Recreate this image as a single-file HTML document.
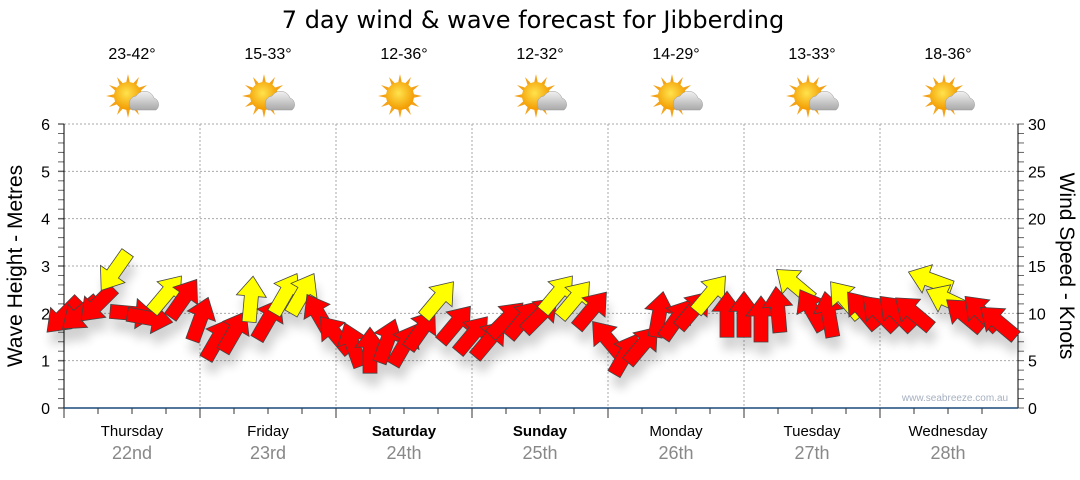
<!DOCTYPE html>
<html><head><meta charset="utf-8">
<style>
body{margin:0;background:#fff;font-family:"Liberation Sans",sans-serif;}
svg text{font-family:"Liberation Sans",sans-serif;}
</style></head>
<body>
<svg id="c" width="1080" height="475" viewBox="0 0 1080 475">
<defs>
<filter id="sh" x="-50%" y="-50%" width="200%" height="200%"><feGaussianBlur in="SourceAlpha" stdDeviation="5"/><feOffset dx="3" dy="12"/><feComponentTransfer><feFuncA type="linear" slope="0.18"/></feComponentTransfer><feMerge><feMergeNode/><feMergeNode in="SourceGraphic"/></feMerge></filter>
<radialGradient id="sun" cx="0.45" cy="0.4" r="0.6"><stop offset="0" stop-color="#ffe34d"/><stop offset="1" stop-color="#f39a00"/></radialGradient>
<linearGradient id="cl" x1="0" y1="0" x2="0" y2="1"><stop offset="0" stop-color="#f2f2f2"/><stop offset="1" stop-color="#a9a9a9"/></linearGradient>
</defs>
<text x="533" y="28" font-size="24" text-anchor="middle" fill="#000" style="font-family:'DejaVu Sans',sans-serif">7 day wind &amp; wave forecast for Jibberding</text>
<g id="grid"></g><g id="axes"></g><g id="icons"></g><g id="arrows" filter="url(#sh)"></g>
<text x="955" y="401" font-size="10" fill="#a6b0c0" text-anchor="middle">www.seabreeze.com.au</text>
<text transform="translate(22,266) rotate(-90)" font-size="21" text-anchor="middle">Wave Height - Metres</text>
<text transform="translate(1060,266) rotate(90)" font-size="21" text-anchor="middle">Wind Speed - Knots</text>
</svg>
<script>
const days=["Thursday","Friday","Saturday","Sunday","Monday","Tuesday","Wednesday"];
const dates=["22nd","23rd","24th","25th","26th","27th","28th"];
const boldDays=[false,false,true,true,false,false,false];
const temps=["23-42°","15-33°","12-36°","12-32°","14-29°","13-33°","18-36°"];
const sunny=[false,false,true,false,false,false,false];
const leftTicks=[0,1,2,3,4,5,6];
const rightTicks=[0,5,10,15,20,25,30];
const hours=[0,3,6,9,12,15,18,21];
const windSpeed=[9.8,10,11,14.5,10,9.5,12,11.5, 9.3,7.2,8,11.4,9.3,12,12,9.8, 7.7,6.6,6,7,6.6,8.2,11.4,8.8, 7.7,7.2,9.3,9.3,9.8,12,11.4,10.3, 7.2,5.6,6.6,9.8,9.3,10.3,12,9.8, 9.8,9.3,10.3,13,10.3,9.8,11.4,10.3, 10,10,10,13.5,11.4,9.8,10,9];
const windDir=[225,230,225,215,95,100,40,35, 20,30,30,5,30,30,30,330, 320,340,0,20,30,35,40,40, 40,40,45,40,45,40,40,40, 320,30,40,10,35,40,40,0, 0,0,355,310,330,350,320,320, 315,315,310,290,295,310,315,310];
const windYellow=[0,0,0,1,0,0,1,0, 0,0,0,1,0,1,1,0, 0,0,0,0,0,0,1,0, 0,0,0,0,0,1,1,0, 0,0,0,0,0,0,1,0, 0,0,0,1,0,0,1,0, 0,0,0,1,1,0,0,0];
const X0=64,DW=136,Y0=408,PPM=47.33;
const xDay=(d,h)=>X0+d*DW+h/24*DW;
const yM=m=>Y0-m*PPM;
const yK=k=>Y0-k/5*PPM;
const NS="http://www.w3.org/2000/svg";
function mk(p,t,a){const e=document.createElementNS(NS,t);for(const k in a)e.setAttribute(k,a[k]);p.appendChild(e);return e;}
const grid=document.getElementById('grid'),axes=document.getElementById('axes'),icons=document.getElementById('icons'),arr=document.getElementById('arrows');
leftTicks.forEach(v=>{if(v>0){const l=mk(grid,'line',{x1:X0,x2:1018,y1:yM(v),y2:yM(v),stroke:'#aaa','stroke-dasharray':'2,2'});}
 const t=mk(axes,'text',{x:X0-14,y:yM(v)+6,'font-size':16,'text-anchor':'end'});t.textContent=v;});
rightTicks.forEach(v=>{const t=mk(axes,'text',{x:1028,y:yK(v)+6,'font-size':16});t.textContent=v;});
for(let i=0;i<=30;i++){const y=Y0-i*PPM/5;mk(axes,'line',{x1:X0-6,x2:X0,y1:y,y2:y,stroke:'#666','stroke-width':(i%5?1:1.5)});mk(axes,'line',{x1:1018,x2:1024,y1:y,y2:y,stroke:'#666'});}
mk(axes,'line',{x1:X0,x2:X0,y1:yM(6),y2:Y0,stroke:'#000'});
mk(axes,'line',{x1:1018,x2:1018,y1:yM(6),y2:Y0,stroke:'#000'});
mk(axes,'line',{x1:X0,x2:1018,y1:Y0,y2:Y0,stroke:'#1a4a7a','stroke-width':1.5});
days.forEach((d,i)=>{
 if(i>0){const l=mk(grid,'line',{x1:xDay(i,0),x2:xDay(i,0),y1:yM(6),y2:Y0,stroke:'#aaa','stroke-dasharray':'2,2'});}
 for(let h=0;h<24;h+=6)mk(axes,'line',{x1:xDay(i,h),x2:xDay(i,h),y1:Y0,y2:Y0+(h?6:10),stroke:'#333'});
 const cx=xDay(i,12);
 const t=mk(axes,'text',{x:cx,y:436,'font-size':15,'text-anchor':'middle','font-weight':boldDays[i]?'bold':'normal'});t.textContent=d;
 const t2=mk(axes,'text',{x:cx,y:459,'font-size':18,'text-anchor':'middle',fill:'#888'});t2.textContent=dates[i];
 const t3=mk(icons,'text',{x:cx,y:59,'font-size':16,'text-anchor':'middle'});t3.textContent=temps[i];
 const g=mk(icons,'g',{transform:`translate(${cx-4},${96})`});
 for(let k=0;k<12;k++){const a=k*30*Math.PI/180;mk(g,'polygon',{points:`${Math.cos(a-0.15)*13},${Math.sin(a-0.15)*13} ${Math.cos(a)*22},${Math.sin(a)*22} ${Math.cos(a+0.15)*13},${Math.sin(a+0.15)*13}`,fill:'#f3a21a'});}
 mk(g,'circle',{cx:0,cy:0,r:14,fill:'url(#sun)'});
 if(!sunny[i]){mk(g,'path',{d:'M4,14 a8,8 0 0 1 4,-14 a10,10 0 0 1 18,2 a7,7 0 0 1 2,12 z',fill:'url(#cl)',stroke:'#999','stroke-width':0.5});}
});
windSpeed.forEach((s,j)=>{
 const x=xDay(Math.floor(j/8),hours[j%8]),y=yK(s);
 const p=mk(arr,'polygon',{points:'0,-24 15,-4 7,-4 7,22 -7,22 -7,-4 -15,-4',fill:windYellow[j]?'#ffff00':'#ff0000',stroke:'#444','stroke-width':0.8,transform:`translate(${x},${y}) rotate(${windDir[j]})`});
 
 
});
</script>
</body></html>
